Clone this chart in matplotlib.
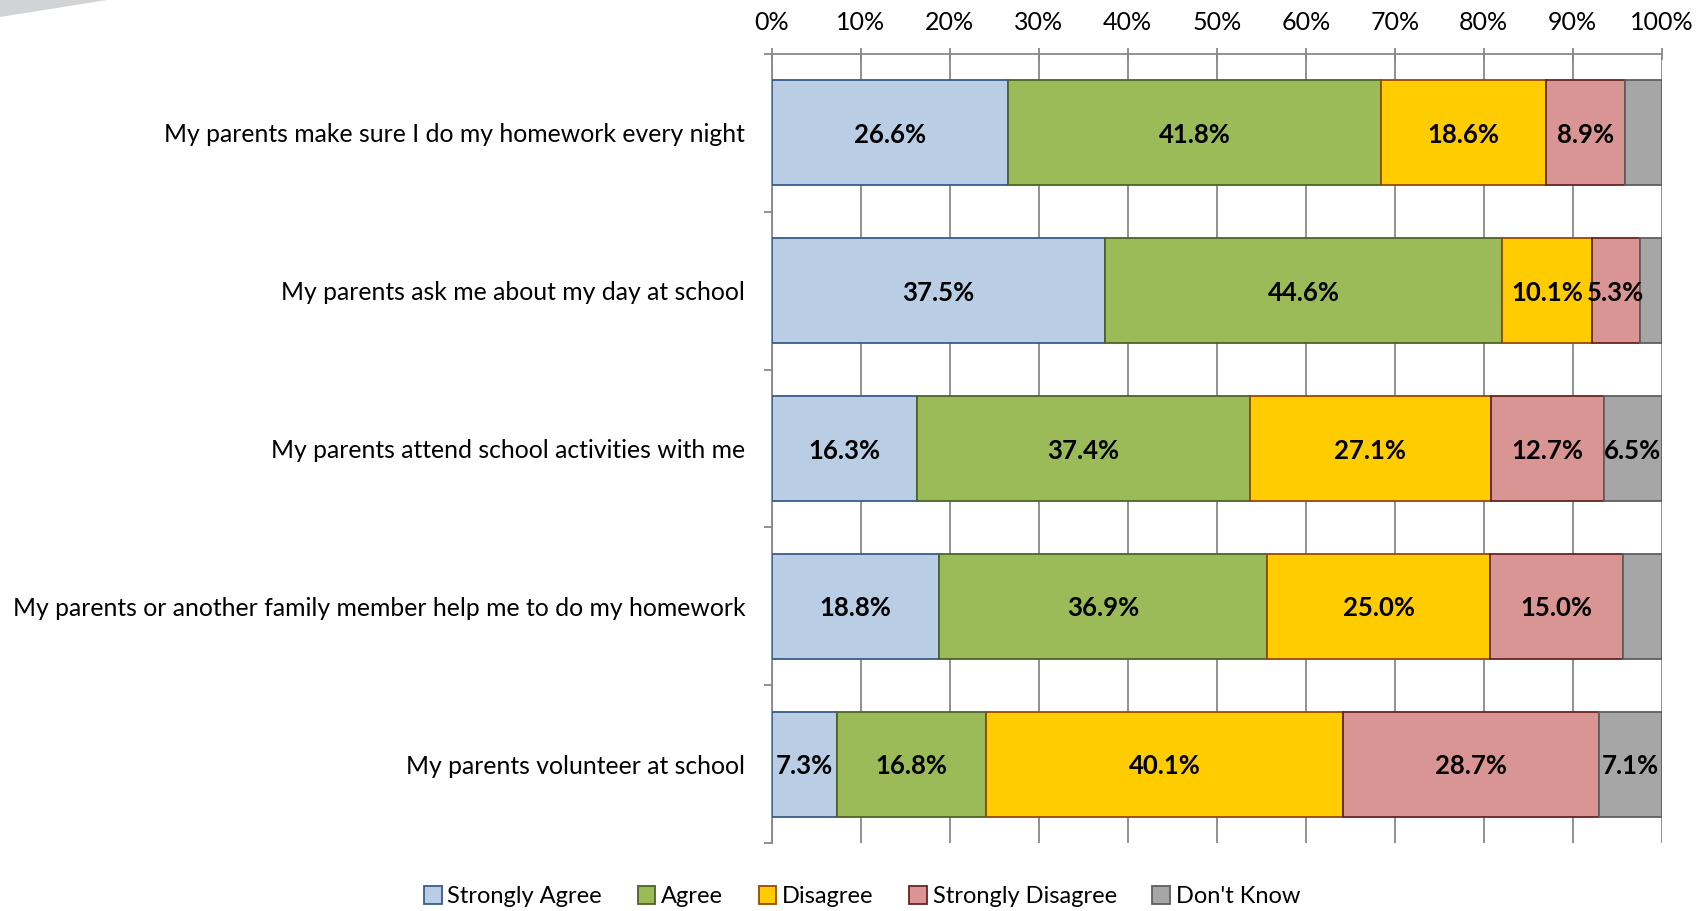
import matplotlib
matplotlib.use("Agg")
import numpy as np
import matplotlib.pyplot as plt
from matplotlib.patches import Polygon

# survey statements, top to bottom
questions = [
    "My parents make sure I do my homework every night",
    "My parents ask me about my day at school",
    "My parents attend school activities with me",
    "My parents or another family member help me to do my homework",
    "My parents volunteer at school",
]
responses = ["Strongly Agree", "Agree", "Disagree", "Strongly Disagree", "Don't Know"]

# percentage of students per response, one list per response
strongly_agree = [26.6, 37.5, 16.3, 18.8, 7.3]
agree = [41.8, 44.6, 37.4, 36.9, 16.8]
disagree = [18.6, 10.1, 27.1, 25.0, 40.1]
strongly_disagree = [8.9, 5.3, 12.7, 15.0, 28.7]
dont_know = [4.1, 2.5, 6.5, 4.3, 7.1]

fills = ["#B9CDE5", "#9BBB59", "#FFCC00", "#D99594", "#A6A6A6"]
edges = ["#385D8A", "#4F6228", "#984807", "#632523", "#5F5F5F"]
AXIS_GREY = "#888888"

FONT = "Lato"

series = [strongly_agree, agree, disagree, strongly_disagree, dont_know]

fig = plt.figure(figsize=(17.07, 9.11), dpi=100)
ax = fig.add_axes([0.4521, 0.0746, 0.5214, 0.8661])

# grey swoosh in the top-left corner
fig.patches.append(Polygon([[0, 1], [107 / 1707, 1], [0, 1 - 17 / 911]],
                           closed=True, transform=fig.transFigure,
                           facecolor="#D1D3D4", edgecolor="none"))

y = np.arange(len(questions))
left = np.zeros(len(questions))
for name, vals, fc, ec in zip(responses, series, fills, edges):
    vals = np.array(vals)
    bars = ax.barh(y, vals, left=left, height=0.665, color=fc, edgecolor=ec,
                   linewidth=1.3, label=name, zorder=3)
    for b, v in zip(bars, vals):
        if v >= 5:
            ax.text(b.get_x() + b.get_width() / 2, b.get_y() + b.get_height() / 2,
                    f"{v:.1f}%", ha="center", va="center_baseline", fontsize=18.5,
                    fontweight="bold", family=FONT, zorder=4)
    left += vals

ax.set_xlim(0, 100)
ax.set_ylim(len(questions) - 0.5, -0.5)

# percent scale on top, gridlines every 10%
ax.xaxis.tick_top()
ax.set_xticks(np.arange(0, 101, 10))
ax.set_xticklabels([f"{t}%" for t in range(0, 101, 10)], family=FONT, fontsize=18)
ax.tick_params(axis="x", direction="inout", length=9, width=1.3, color=AXIS_GREY, pad=10)
ax.grid(axis="x", color=AXIS_GREY, linewidth=1.3, zorder=0)

# category boundaries get the left-hand tick marks
ax.set_yticks(np.arange(-0.5, len(questions), 1.0))
ax.set_yticklabels([])
ax.set_yticks(y, minor=True)
ax.set_yticklabels(questions, minor=True, family=FONT, fontsize=17.8)
ax.tick_params(axis="y", which="major", length=6, width=1.3, color=AXIS_GREY)
ax.tick_params(axis="y", which="minor", length=0, pad=19)

for side in ("right", "bottom"):
    ax.spines[side].set_visible(False)
for side in ("left", "top"):
    ax.spines[side].set_color(AXIS_GREY)
    ax.spines[side].set_linewidth(1.3)

fig.legend(loc="center", bbox_to_anchor=(0.505, 0.0155), ncol=5, frameon=False,
           prop={"family": FONT, "size": 17}, handlelength=0.75, handleheight=0.75,
           handletextpad=0.25, columnspacing=1.5)

fig.savefig("out.png", dpi=100)
